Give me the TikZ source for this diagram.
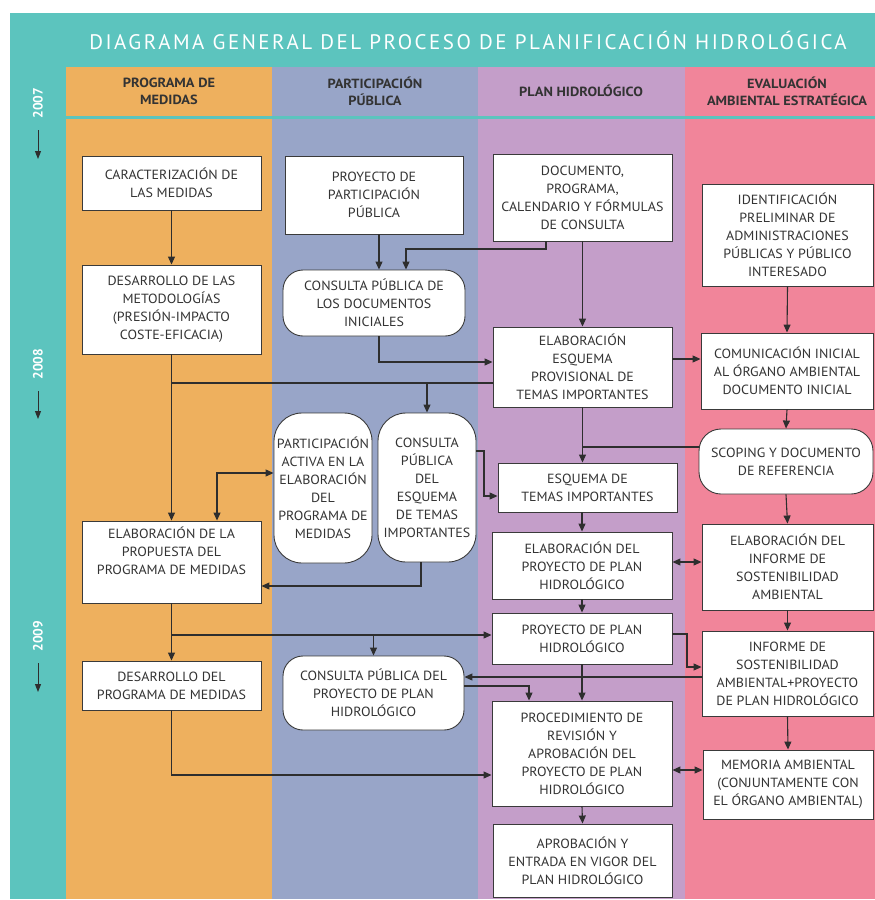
\documentclass[tikz,border=0pt]{standalone}
\usepackage{fontspec}
\setmainfont{PT Sans}
\newfontfamily\titlefont[LetterSpace=12]{PT Sans}
\newfontfamily\boxfont[FakeStretch=1.05]{PT Sans}
\newfontfamily\hdrfont[FakeStretch=1.08]{PT Sans}
\usetikzlibrary{arrows.meta}
\definecolor{cTeal}{HTML}{5CC4BE}
\definecolor{cOrange}{HTML}{EEB05E}
\definecolor{cBlue}{HTML}{98A5C8}
\definecolor{cPurple}{HTML}{C49EC9}
\definecolor{cPink}{HTML}{F1859A}
\definecolor{cLine}{HTML}{3A3A3A}
\definecolor{cText}{HTML}{333333}
\definecolor{cArrow}{HTML}{2E2E2E}
\begin{document}
\begin{tikzpicture}[x=1pt,y=-1pt,
  box/.style={draw=cLine, line width=0.9pt, fill=white, inner sep=0pt, align=center, text=cText, font=\boxfont\fontsize{13.3}{18}\selectfont},
  rbox/.style={box, rounded corners=#1},
  hdr/.style={align=center, text=cText, font=\hdrfont\bfseries\fontsize{13.3}{17}\selectfont},
  yr/.style={rotate=90, text=white, font=\bfseries\fontsize{13.5}{14}\selectfont},
  ln/.style={draw=cArrow, line width=1.1pt},
  arr/.style={ln, -{Triangle[length=8pt,width=7pt]}},
  darr/.style={ln, {Triangle[length=8pt,width=7pt]}-{Triangle[length=8pt,width=7pt]}},
  yarr/.style={draw=cArrow, line width=1pt, -{Triangle[length=8pt,width=6pt]}}]
\useasboundingbox (0,0) rectangle (875,900);
\fill[white] (0,0) rectangle (875,900);
% background bands
\fill[cTeal] (10,13) rectangle (875,899);
\fill[cOrange] (66,67) rectangle (272,899);
\fill[cBlue] (272,67) rectangle (478,899);
\fill[cPurple] (478,67) rectangle (685,899);
\fill[cPink] (685,67) rectangle (875,899);
\draw[cTeal, line width=3pt] (66,117.5) -- (875,117.5);
% title
\node[text=white, font=\titlefont\fontsize{21}{22}\selectfont] (title) at (468,40) {DIAGRAMA GENERAL DEL PROCESO DE PLANIFICACIÓN HIDROLÓGICA};
% headers
\node[hdr] (h1) at (169,91) {PROGRAMA DE\\MEDIDAS};
\node[hdr] (h2) at (375,91) {PARTICIPACIÓN\\PÚBLICA};
\node[hdr] (h3) at (581,91) {PLAN HIDROLÓGICO};
\node[hdr] (h4) at (787,91) {EVALUACIÓN\\AMBIENTAL ESTRATÉGICA};
% years
\node[yr] (y1) at (38,103) {2007};
\node[yr] (y2) at (38,364) {2008};
\node[yr] (y3) at (38,636) {2009};
\coordinate (ya1) at (38,130); \coordinate (yb1) at (38,159);
\coordinate (ya2) at (38,391); \coordinate (yb2) at (38,419);
\coordinate (ya3) at (38,663); \coordinate (yb3) at (38,692);
\draw[yarr] (ya1) -- (yb1);
\draw[yarr] (ya2) -- (yb2);
\draw[yarr] (ya3) -- (yb3);
% column A
\node[box, minimum width=179pt, minimum height=54pt] (A1) at (171.5,183) {CARACTERIZACIÓN DE\\LAS MEDIDAS};
\node[box, minimum width=179pt, minimum height=89pt] (A2) at (171.5,309.5) {DESARROLLO DE LAS\\METODOLOGÍAS\\(PRESIÓN-IMPACTO\\COSTE-EFICACIA)};
\node[box, minimum width=179pt, minimum height=82pt] (A3) at (171.5,562) {ELABORACIÓN DE LA\\PROPUESTA DEL\\PROGRAMA DE MEDIDAS\\ \strut};
\node[box, minimum width=179pt, minimum height=49pt] (A4) at (171.5,685.5) {DESARROLLO DEL\\PROGRAMA DE MEDIDAS};
% column B
\node[box, minimum width=178pt, minimum height=78pt] (B1) at (374,195) {PROYECTO DE\\PARTICIPACIÓN\\PÚBLICA};
\node[rbox=20pt, minimum width=182pt, minimum height=66pt] (B2) at (374,303) {CONSULTA PÚBLICA DE\\LOS DOCUMENTOS\\INICIALES};
\node[rbox=28pt, minimum width=98pt, minimum height=150pt] (B3) at (323,488) {PARTICIPACIÓN\\ACTIVA EN LA\\ELABORACIÓN\\DEL\\PROGRAMA DE\\MEDIDAS};
\node[rbox=28pt, minimum width=98pt, minimum height=149pt] (B4) at (427,487.5) {CONSULTA\\PÚBLICA\\DEL\\ESQUEMA\\DE TEMAS\\IMPORTANTES};
\node[rbox=20pt, minimum width=181pt, minimum height=74pt] (B5) at (373.5,693) {CONSULTA PÚBLICA DEL\\PROYECTO DE PLAN\\HIDROLÓGICO};
% column C
\node[box, minimum width=179pt, minimum height=87pt] (C1) at (582.5,197.5) {DOCUMENTO,\\PROGRAMA,\\CALENDARIO Y FÓRMULAS\\DE CONSULTA};
\node[box, minimum width=179pt, minimum height=80pt] (C2) at (582.5,367) {ELABORACIÓN\\ESQUEMA\\PROVISIONAL DE\\TEMAS IMPORTANTES};
\node[box, minimum width=179pt, minimum height=49pt] (C3) at (587.5,487.5) {ESQUEMA DE\\TEMAS IMPORTANTES};
\node[box, minimum width=180pt, minimum height=67pt] (C4) at (582,565.5) {ELABORACIÓN DEL\\PROYECTO DE PLAN\\HIDROLÓGICO};
\node[box, minimum width=180pt, minimum height=51pt] (C5) at (582,638.5) {PROYECTO DE PLAN\\HIDROLÓGICO};
\node[box, minimum width=180pt, minimum height=105pt] (C6) at (582,753.5) {PROCEDIMIENTO DE\\REVISIÓN Y\\APROBACIÓN DEL\\PROYECTO DE PLAN\\HIDROLÓGICO};
\node[box, minimum width=179pt, minimum height=73pt] (C7) at (582.5,860.5) {APROBACIÓN Y\\ENTRADA EN VIGOR DEL\\PLAN HIDROLÓGICO};
% column D
\node[box, minimum width=171pt, minimum height=102pt] (D1) at (787.5,235) {IDENTIFICACIÓN\\PRELIMINAR DE\\ADMINISTRACIONES\\PÚBLICAS Y PÚBLICO\\INTERESADO};
\node[box, minimum width=172pt, minimum height=76pt] (D2) at (787,371) {COMUNICACIÓN INICIAL\\AL ÓRGANO AMBIENTAL\\DOCUMENTO INICIAL};
\node[rbox=22pt, minimum width=174pt, minimum height=65pt] (D3) at (786,461.5) {SCOPING Y DOCUMENTO\\DE REFERENCIA};
\node[box, minimum width=171pt, minimum height=86pt] (D4) at (787.5,567) {ELABORACIÓN DEL\\INFORME DE\\SOSTENIBILIDAD\\AMBIENTAL};
\node[box, minimum width=171pt, minimum height=85pt] (D5) at (787.5,673.5) {INFORME DE\\SOSTENIBILIDAD\\AMBIENTAL+PROYECTO\\DE PLAN HIDROLÓGICO};
\node[box, minimum width=170pt, minimum height=69pt] (D6) at (788,784.5) {MEMORIA AMBIENTAL\\(CONJUNTAMENTE CON\\EL ÓRGANO AMBIENTAL)};
% helper coordinates
\coordinate (J1) at (171.5,383);
\coordinate (J2) at (171.5,635);
\coordinate (J3) at (171.5,775);
\coordinate (k1) at (546,249);
\coordinate (k2) at (406,249);
\coordinate (k3) at (379,362);
\coordinate (y359) at (0,359);
\coordinate (y447) at (0,447);
\coordinate (m1) at (484,451);
\coordinate (m2) at (484,496);
\coordinate (p1) at (217,473);
\coordinate (q1) at (421,586);
\coordinate (y562) at (0,562);
\coordinate (r1) at (687,634);
\coordinate (r2) at (687,667);
\coordinate (y677) at (0,677);
\coordinate (s1) at (529,686);
\coordinate (y770) at (0,770);
% connectors column A
\draw[arr] (A1.south) -- (A2.north);
\draw[arr] (A2.south) -- (A3.north);
\draw[ln] (C2.west |- J1) -- (J1);
\draw[arr] (B4.north |- J1) -- (B4.north);
\draw[darr] (A3.north -| p1) -- (p1) -- (B3.west |- p1);
\draw[arr] (B4.south -| q1) -- (q1) -- (A3.east |- q1);
\draw[arr] (A3.south) -- (A4.north);
\draw[arr] (J2) -- (C5.west |- J2);
\draw[arr] (B5.north |- J2) -- (B5.north);
\draw[arr] (A4.south) -- (J3) -- (C6.west |- J3);
% column B
\draw[arr] (B1.south -| k3) -- (B2.north -| k3);
\draw[arr] (C1.south -| k1) -- (k1) -- (k2) -- (B2.north -| k2);
\draw[arr] (B2.south -| k3) -- (k3) -- (C2.west |- k3);
\draw[arr] (B4.east |- m1) -- (m1) -- (m2) -- (C3.west |- m2);
\draw[arr] (B5.east |- s1) -- (s1) -- (C6.north -| s1);
% column C
\draw[arr] (C1.south) -- (C2.north);
\draw[arr] (C2.east |- y359) -- (D2.west |- y359);
\draw[arr] (C2.south) -- (C2.south |- C3.north);
\draw[ln] (D3.west |- y447) -- (C2.south |- y447);
\draw[arr] (C3.south -| C4.north) -- (C4.north);
\draw[darr] (C4.east |- y562) -- (D4.west |- y562);
\draw[arr] (C4.south) -- (C5.north);
\draw[arr] (C5.east |- r1) -- (r1) -- (r2) -- (D5.west |- r2);
\draw[arr] (D5.west |- y677) -- (B5.east |- y677);
\draw[arr] (C5.south) -- (C6.north);
\draw[darr] (C6.east |- y770) -- (D6.west |- y770);
\draw[arr] (C6.south) -- (C7.north);
% column D
\draw[arr] (D1.south) -- (D2.north);
\draw[arr] (D2.south) -- (D3.north);
\draw[arr] (D3.south) -- (D4.north);
\draw[arr] (D4.south) -- (D5.north);
\draw[arr] (D5.south) -- (D6.north);
\end{tikzpicture}
\end{document}
